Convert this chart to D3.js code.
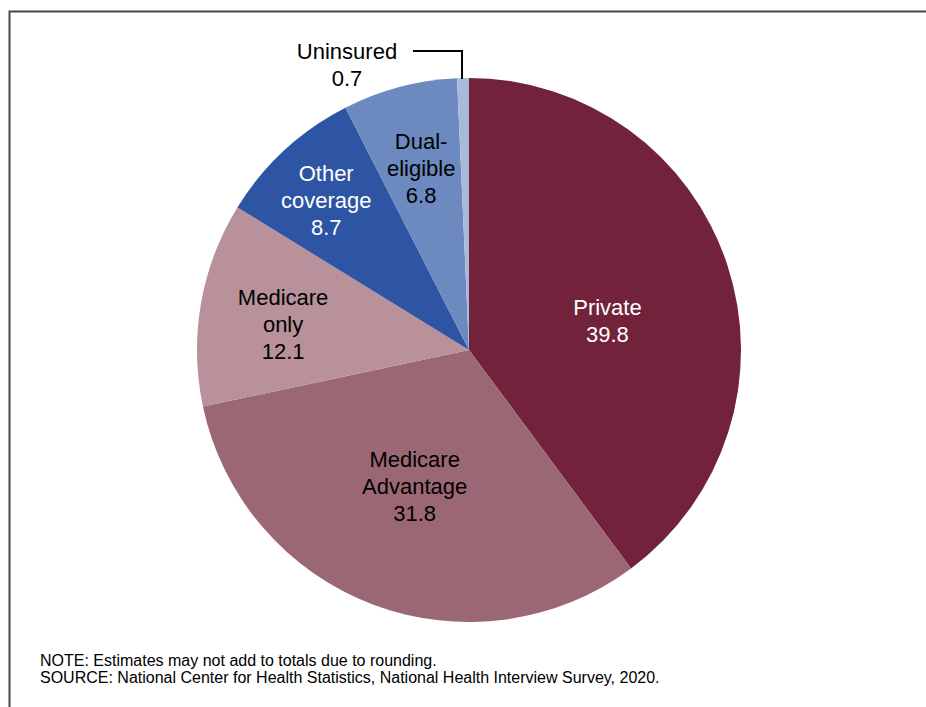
<!DOCTYPE html>
<html>
<head>
<meta charset="utf-8">
<script src="https://cdn.jsdelivr.net/npm/d3@7"></script>
<style>
  body { margin: 0; background: #fff; }
  svg { display: block; font-family: "Liberation Sans", Arial, sans-serif; }
</style>
</head>
<body>
<svg id="chart" width="926" height="707"></svg>
<script>
// coverage categories, clockwise from 12 o'clock
var categories = ["Private", "Medicare Advantage", "Medicare only", "Other coverage", "Dual-eligible", "Uninsured"];
var values = [39.8, 31.8, 12.1, 8.7, 6.8, 0.7];
var labelLines = [["Private"], ["Medicare", "Advantage"], ["Medicare", "only"], ["Other", "coverage"], ["Dual-", "eligible"], ["Uninsured"]];
var colors = ["#72233b", "#9c6774", "#b8919a", "#2e55a4", "#6c89c0", "#a9b9dc"];
var textColors = ["#fff", "#000", "#000", "#fff", "#000", "#000"];
var notes = [
    "NOTE: Estimates may not add to totals due to rounding.",
    "SOURCE: National Center for Health Statistics, National Health Interview Survey, 2020."
];

var CX = 469, CY = 350, R = 272, LINE = 27;

// label placement: fraction of radius + angle nudge (degrees)
var labelPlace = {
    "Private": { r: 0.52, da: 6.5 },
    "Medicare Advantage": { r: 0.54, da: 1 },
    "Medicare only": { r: 0.69, da: -2 },
    "Other coverage": { r: 0.76, da: -1 },
    "Dual-eligible": { r: 0.69, da: 0 }
};

var svg = d3.select("#chart");

// frame
svg.append("path")
    .attr("d", "M9.5,720 V11.5 H940")
    .attr("fill", "none")
    .attr("stroke", "#4a4a4a")
    .attr("stroke-width", 2);

var pie = d3.pie().sort(null).value(function(d) { return d.value; });
var arcs = pie(categories.map(function(c, i) {
    return { name: c, value: values[i], i: i };
}));

var arc = d3.arc().innerRadius(0).outerRadius(R);

var g = svg.append("g").attr("transform", "translate(" + CX + "," + CY + ")");

g.selectAll("path.slice")
    .data(arcs)
    .enter()
    .append("path")
    .attr("class", "slice")
    .attr("d", arc)
    .attr("fill", function(d) { return colors[d.data.i]; });

function point(angle, r) {
    return [Math.sin(angle) * r, -Math.cos(angle) * r];
}

// in-slice labels
arcs.forEach(function(d) {
    var p = labelPlace[d.data.name];
    if (!p) return;
    var mid = (d.startAngle + d.endAngle) / 2 + p.da * Math.PI / 180;
    var xy = point(mid, R * p.r);
    var lines = labelLines[d.data.i].concat([d3.format(".1f")(d.data.value)]);
    var text = g.append("text")
        .attr("text-anchor", "middle")
        .attr("font-size", 22)
        .attr("fill", textColors[d.data.i]);
    lines.forEach(function(t, k) {
        text.append("tspan")
            .attr("x", xy[0])
            .attr("y", xy[1] + (k - (lines.length - 1) / 2) * LINE)
            .attr("dy", "0.35em")
            .text(t);
    });
});

// uninsured callout
var u = arcs[arcs.length - 1];
var uMid = (u.startAngle + u.endAngle) / 2;
var edge = point(uMid, R);
var lx = -122, ly = -299;
g.append("path")
    .attr("d", "M" + (lx + 66) + "," + ly + " H" + (edge[0] - 1) + " V" + (edge[1] + 1))
    .attr("fill", "none")
    .attr("stroke", "#000")
    .attr("stroke-width", 2);
var ut = g.append("text")
    .attr("text-anchor", "middle")
    .attr("font-size", 22)
    .attr("fill", "#000");
[labelLines[u.data.i][0], d3.format(".1f")(u.data.value)].forEach(function(t, k) {
    ut.append("tspan")
        .attr("x", lx)
        .attr("y", ly + k * LINE)
        .attr("dy", "0.35em")
        .text(t);
});

// footnotes
svg.selectAll("text.note")
    .data(notes)
    .enter()
    .append("text")
    .attr("class", "note")
    .attr("x", 40)
    .attr("y", function(d, i) { return 666 + i * 17; })
    .attr("font-size", 16)
    .attr("fill", "#000")
    .text(function(d) { return d; });
</script>
</body>
</html>
